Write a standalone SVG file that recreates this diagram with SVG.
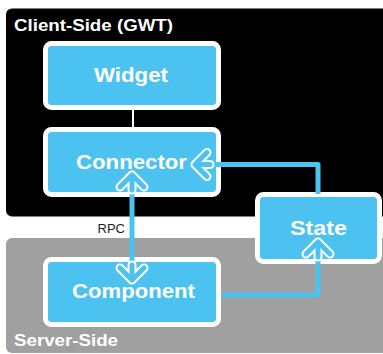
<svg xmlns="http://www.w3.org/2000/svg" width="383" height="354" viewBox="0 0 383 354">
  <defs>
    <style>
      .zone-label { font-family: "Liberation Sans", Arial, sans-serif; font-weight: bold; fill: #ffffff; }
      .box { fill: #4BC2F0; stroke: #ffffff; stroke-width: 5; }
      .box-label { font-family: "Liberation Sans", Arial, sans-serif; font-weight: bold; font-size: 21px; fill: #ffffff; text-anchor: middle; }
      .wire { fill: none; stroke: #4BC2F0; stroke-width: 5; stroke-linejoin: round; }
      .head-casing { fill: none; stroke: #ffffff; stroke-width: 9; stroke-linecap: round; stroke-linejoin: round; }
      .head { fill: none; stroke: #4BC2F0; stroke-width: 5; stroke-linecap: round; stroke-linejoin: round; }
      .link { stroke: #ffffff; stroke-width: 2; }
    </style>
  </defs>

  <rect width="383" height="354" fill="#ffffff"/>

  <!-- Zones -->
  <g id="client-zone">
    <rect x="6" y="8.5" width="400" height="208" rx="6" fill="#000000"/>
    <text class="zone-label" x="14" y="31" font-size="17" textLength="159" lengthAdjust="spacingAndGlyphs">Client-Side (GWT)</text>
  </g>
  <g id="server-zone">
    <rect x="6" y="238" width="400" height="115" rx="6" fill="#A0A0A0"/>
    <text class="zone-label" x="14" y="345.5" font-size="17" textLength="104" lengthAdjust="spacingAndGlyphs">Server-Side</text>
  </g>

  <!-- Nodes -->
  <g id="widget">
    <rect class="box" x="45.5" y="43.5" width="173" height="64" rx="6"/>
    <text class="box-label" x="131" y="81.5" textLength="74" lengthAdjust="spacingAndGlyphs">Widget</text>
  </g>
  <g id="connector">
    <rect class="box" x="45.5" y="129.5" width="173" height="65" rx="6"/>
    <text class="box-label" x="131.5" y="168.5" textLength="111" lengthAdjust="spacingAndGlyphs">Connector</text>
  </g>
  <g id="state">
    <rect class="box" x="257.5" y="194.5" width="122" height="67" rx="6"/>
    <text class="box-label" x="318.5" y="235" textLength="57" lengthAdjust="spacingAndGlyphs">State</text>
  </g>
  <g id="component">
    <rect class="box" x="45.5" y="259.5" width="173" height="65" rx="6"/>
    <text class="box-label" x="133.5" y="297.5" textLength="123" lengthAdjust="spacingAndGlyphs">Component</text>
  </g>

  <!-- Connectors -->
  <g id="connectors">
    <!-- Widget to Connector -->
    <line class="link" x1="133" y1="110" x2="133" y2="127"/>

    <!-- RPC: Connector <-> Component -->
    <line class="wire" x1="132" y1="178" x2="132" y2="278"/>
    <path class="head-casing" d="M120 187 L132 175 L144 187 M132 175 L132 190"/>
    <path class="head" d="M120 187 L132 175 L144 187 M132 175 L132 190"/>
    <path class="head-casing" d="M120 268 L132 280 L144 268 M132 280 L132 265"/>
    <path class="head" d="M120 268 L132 280 L144 268 M132 280 L132 265"/>

    <!-- State to Connector -->
    <path class="wire" d="M318 194 L318 164.5 L198 164.5"/>
    <path class="head-casing" d="M207 152.5 L195 164.5 L207 176.5 M195 164.5 L210 164.5"/>
    <path class="head" d="M207 152.5 L195 164.5 L207 176.5 M195 164.5 L210 164.5"/>

    <!-- Component to State -->
    <path class="wire" d="M221 295 L318 295 L318 245"/>
    <path class="head-casing" d="M306 254 L318 242 L330 254 M318 242 L318 257"/>
    <path class="head" d="M306 254 L318 242 L330 254 M318 242 L318 257"/>
  </g>

  <text x="97.5" y="232.5" font-family="Liberation Sans, Arial, sans-serif" font-size="13" fill="#222222">RPC</text>
</svg>
